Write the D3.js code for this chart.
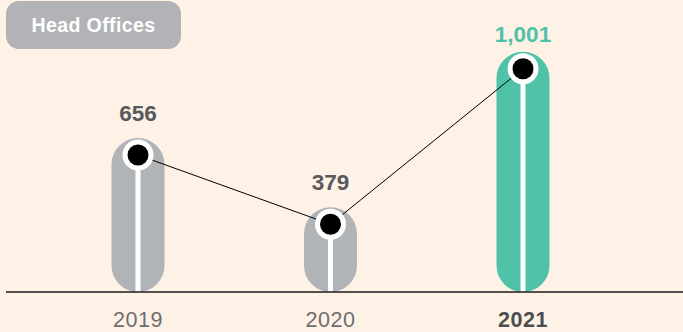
<!DOCTYPE html>
<html><head><meta charset="utf-8">
<script src="https://cdn.jsdelivr.net/npm/d3@7"></script>
<style>
html,body{margin:0;padding:0;background:#fef1e6;}
svg{display:block;}
text{font-family:"Liberation Sans",Arial,Helvetica,sans-serif;}
</style></head><body>
<svg id="chart" width="683" height="332"></svg>
<script>
const title = "Head Offices";
const years = ["2019", "2020", "2021"];
const values = [656, 379, 1001];
const valueLabels = ["656", "379", "1,001"];
const highlight = "2021";

const W = 683, H = 332, baseY = 292;
const svg = d3.select("#chart");
svg.append("rect").attr("width", W).attr("height", H).attr("fill", "#fef1e6");

const x = d3.scalePoint().domain(years).range([138, 523]);
const y = d3.scaleLinear().domain([40, 1000]).range([baseY, 52]);
const barW = 53, r = barW / 2, dotOff = 17;
const grey = "#b1b4b7", teal = "#4fc2a7";
const data = years.map((yr, i) => ({yr, v: values[i], label: valueLabels[i]}));
const col = d => d.yr === highlight ? teal : grey;

// title pill
svg.append("rect").attr("x", 6).attr("y", 1).attr("width", 175).attr("height", 48)
  .attr("rx", 13).attr("fill", "#b1b3b6");
svg.append("text").attr("x", 93.5).attr("y", 32).attr("text-anchor", "middle")
  .attr("fill", "#fff").attr("font-weight", "bold").attr("font-size", 19.5)
  .attr("letter-spacing", 0.4).text(title);

// bars (pills)
svg.selectAll("rect.bar").data(data).enter().append("rect").attr("class", "bar")
  .attr("x", d => x(d.yr) - r).attr("y", d => y(d.v))
  .attr("width", barW).attr("height", d => baseY - y(d.v))
  .attr("rx", r).attr("ry", r).attr("fill", col);

// white stripe
svg.selectAll("rect.stripe").data(data).enter().append("rect").attr("class", "stripe")
  .attr("x", d => x(d.yr) - 2.5).attr("y", d => y(d.v) + dotOff)
  .attr("width", 5).attr("height", d => baseY - y(d.v) - dotOff).attr("fill", "#fff");

// baseline
svg.append("line").attr("x1", 6).attr("x2", W).attr("y1", baseY).attr("y2", baseY)
  .attr("stroke", "#1a1a1a").attr("stroke-width", 1.3);

// connecting line
svg.append("path").datum(data)
  .attr("d", d3.line().x(d => x(d.yr)).y(d => y(d.v) + dotOff))
  .attr("fill", "none").attr("stroke", "#000").attr("stroke-width", 1);

// dots
svg.selectAll("circle.ring").data(data).enter().append("circle")
  .attr("cx", d => x(d.yr)).attr("cy", d => y(d.v) + dotOff).attr("r", 15.5).attr("fill", "#fff");
svg.selectAll("circle.dot").data(data).enter().append("circle")
  .attr("cx", d => x(d.yr)).attr("cy", d => y(d.v) + dotOff).attr("r", 10.5).attr("fill", "#000");

// value labels
svg.selectAll("text.val").data(data).enter().append("text")
  .attr("x", d => x(d.yr)).attr("y", d => y(d.v) - (d.yr === highlight ? 10 : 17))
  .attr("text-anchor", "middle").attr("font-weight", "bold").attr("font-size", 22.5)
  .attr("fill", d => d.yr === highlight ? teal : "#58595b").text(d => d.label);

// year labels
svg.selectAll("text.yr").data(data).enter().append("text")
  .attr("x", d => x(d.yr)).attr("y", 327)
  .attr("text-anchor", "middle").attr("font-size", 21.5).attr("letter-spacing", 0.5)
  .attr("font-weight", d => d.yr === highlight ? "bold" : "normal")
  .attr("fill", d => d.yr === highlight ? "#4d4d4f" : "#6d6e70").text(d => d.yr);
</script></body></html>
